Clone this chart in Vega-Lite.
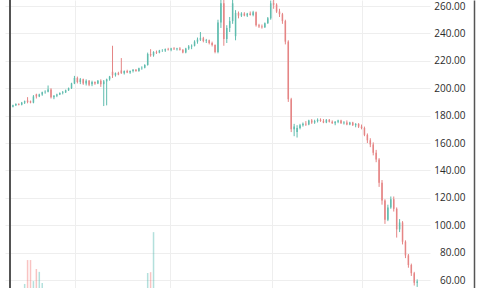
{
  "$schema": "https://vega.github.io/schema/vega-lite/v6.json",
  "width": 425,
  "height": 288,
  "autosize": {"type": "none"},
  "padding": {"left": 5, "top": 0, "right": 50, "bottom": 0},
  "background": "#ffffff",
  "config": {"view": {"stroke": null}, "font": "Open Sans"},
  "data": {
    "values": [
      {"i": 1, "o": 186.5, "h": 188, "l": 186, "c": 187.5, "v": 12},
      {"i": 2, "o": 187.5, "h": 189, "l": 187, "c": 188.5, "v": 10},
      {"i": 3, "o": 188.5, "h": 189, "l": 187.5, "c": 188, "v": 11},
      {"i": 4, "o": 188, "h": 190, "l": 187.5, "c": 189.5, "v": 13},
      {"i": 5, "o": 189.5, "h": 191, "l": 188.5, "c": 190.5, "v": 21.4},
      {"i": 6, "o": 191, "h": 193.5, "l": 189, "c": 190, "v": 29.7},
      {"i": 7, "o": 190.5, "h": 191, "l": 189, "c": 189.5, "v": 29.7},
      {"i": 8, "o": 189.5, "h": 195, "l": 189, "c": 194, "v": 22.4},
      {"i": 9, "o": 195.5, "h": 196, "l": 192.5, "c": 194, "v": 26.6},
      {"i": 10, "o": 194, "h": 196, "l": 193.5, "c": 195.5, "v": 25.6},
      {"i": 11, "o": 195.5, "h": 197.5, "l": 194.5, "c": 197, "v": 21.7},
      {"i": 12, "o": 197, "h": 198.5, "l": 196, "c": 197.5, "v": 15},
      {"i": 13, "o": 197.5, "h": 202, "l": 197, "c": 199, "v": 14},
      {"i": 14, "o": 199, "h": 200, "l": 192.5, "c": 193.5, "v": 16},
      {"i": 15, "o": 193.5, "h": 195, "l": 192, "c": 194.5, "v": 12},
      {"i": 16, "o": 194.5, "h": 196, "l": 193.5, "c": 195.5, "v": 10},
      {"i": 17, "o": 195.5, "h": 197, "l": 195, "c": 196.5, "v": 9},
      {"i": 18, "o": 196.5, "h": 198, "l": 195.5, "c": 197, "v": 11},
      {"i": 19, "o": 197, "h": 199, "l": 196.5, "c": 198.5, "v": 10},
      {"i": 20, "o": 198.5, "h": 200.5, "l": 198, "c": 200, "v": 12},
      {"i": 21, "o": 200, "h": 204, "l": 199.5, "c": 203.5, "v": 14},
      {"i": 22, "o": 203.5, "h": 209, "l": 203, "c": 207.5, "v": 17},
      {"i": 23, "o": 207.5, "h": 208.5, "l": 203.5, "c": 204.5, "v": 13},
      {"i": 24, "o": 204.5, "h": 207.5, "l": 203, "c": 206.5, "v": 11},
      {"i": 25, "o": 206.5, "h": 207, "l": 202.5, "c": 203.5, "v": 12},
      {"i": 26, "o": 203.5, "h": 206.5, "l": 202, "c": 205.5, "v": 10},
      {"i": 27, "o": 205.5, "h": 206, "l": 201.5, "c": 202.5, "v": 11},
      {"i": 28, "o": 203, "h": 205.5, "l": 201.5, "c": 204.5, "v": 9},
      {"i": 29, "o": 204.5, "h": 205, "l": 202.5, "c": 203.5, "v": 10},
      {"i": 30, "o": 203.5, "h": 206, "l": 203, "c": 205.5, "v": 11},
      {"i": 31, "o": 205.5, "h": 206.5, "l": 201, "c": 203, "v": 13},
      {"i": 32, "o": 203, "h": 206, "l": 187, "c": 205, "v": 18},
      {"i": 33, "o": 205, "h": 207, "l": 187.5, "c": 206.5, "v": 17},
      {"i": 34, "o": 206.5, "h": 209, "l": 205.5, "c": 208.5, "v": 12},
      {"i": 35, "o": 212, "h": 231, "l": 207.5, "c": 209.5, "v": 19},
      {"i": 36, "o": 209.5, "h": 211.5, "l": 208.5, "c": 211, "v": 12},
      {"i": 37, "o": 211, "h": 212, "l": 209.5, "c": 210, "v": 10},
      {"i": 38, "o": 213, "h": 222, "l": 210.5, "c": 211, "v": 15},
      {"i": 39, "o": 211, "h": 213, "l": 210, "c": 212.5, "v": 10},
      {"i": 40, "o": 212.5, "h": 213.5, "l": 211, "c": 211.5, "v": 9},
      {"i": 41, "o": 211.5, "h": 213, "l": 210.5, "c": 212.5, "v": 10},
      {"i": 42, "o": 212.5, "h": 214, "l": 211.5, "c": 213.5, "v": 11},
      {"i": 43, "o": 213.5, "h": 214, "l": 212, "c": 212.5, "v": 9},
      {"i": 44, "o": 212.5, "h": 215, "l": 212, "c": 214.5, "v": 10},
      {"i": 45, "o": 214.5, "h": 216, "l": 213.5, "c": 215, "v": 12},
      {"i": 46, "o": 215, "h": 217.5, "l": 214.5, "c": 217, "v": 19},
      {"i": 47, "o": 217, "h": 226, "l": 216.5, "c": 225, "v": 25.2},
      {"i": 48, "o": 225, "h": 228.5, "l": 223, "c": 224, "v": 25.5},
      {"i": 49, "o": 224, "h": 227, "l": 223, "c": 226.5, "v": 39.4},
      {"i": 50, "o": 226.5, "h": 227.5, "l": 225, "c": 226, "v": 16},
      {"i": 51, "o": 226, "h": 228, "l": 225.5, "c": 227.5, "v": 13},
      {"i": 52, "o": 227.5, "h": 228.5, "l": 226.5, "c": 227.5, "v": 11},
      {"i": 53, "o": 227.5, "h": 229, "l": 226.5, "c": 228.5, "v": 10},
      {"i": 54, "o": 228.5, "h": 229.5, "l": 227.5, "c": 228, "v": 9},
      {"i": 55, "o": 228, "h": 229.5, "l": 227, "c": 229, "v": 10},
      {"i": 56, "o": 229, "h": 230, "l": 228, "c": 228.5, "v": 9},
      {"i": 57, "o": 228.5, "h": 229.5, "l": 227.5, "c": 229, "v": 10},
      {"i": 58, "o": 229, "h": 230, "l": 227.5, "c": 228, "v": 11},
      {"i": 59, "o": 228, "h": 228.5, "l": 225.5, "c": 226, "v": 12},
      {"i": 60, "o": 226, "h": 229.5, "l": 225.5, "c": 229, "v": 11},
      {"i": 61, "o": 229, "h": 231.5, "l": 228, "c": 230.5, "v": 12},
      {"i": 62, "o": 230.5, "h": 232, "l": 228.5, "c": 231, "v": 11},
      {"i": 63, "o": 231, "h": 235, "l": 230.5, "c": 234, "v": 13},
      {"i": 64, "o": 234, "h": 237, "l": 232.5, "c": 235.5, "v": 12},
      {"i": 65, "o": 235.5, "h": 241, "l": 234.5, "c": 236.5, "v": 14},
      {"i": 66, "o": 236.5, "h": 237.5, "l": 233.5, "c": 234.5, "v": 11},
      {"i": 67, "o": 234.5, "h": 236, "l": 233, "c": 235, "v": 10},
      {"i": 68, "o": 235, "h": 235.5, "l": 232, "c": 233, "v": 11},
      {"i": 69, "o": 233, "h": 234, "l": 230.5, "c": 231.5, "v": 12},
      {"i": 70, "o": 231.5, "h": 232, "l": 225.5, "c": 226.5, "v": 15},
      {"i": 71, "o": 226.5, "h": 250, "l": 225.5, "c": 248, "v": 19},
      {"i": 72, "o": 248, "h": 265, "l": 244, "c": 262, "v": 19},
      {"i": 73, "o": 262, "h": 265, "l": 231, "c": 236, "v": 19},
      {"i": 74, "o": 236, "h": 246, "l": 233, "c": 244, "v": 16},
      {"i": 75, "o": 244, "h": 252, "l": 241, "c": 249, "v": 15},
      {"i": 76, "o": 249, "h": 265, "l": 247, "c": 262, "v": 17},
      {"i": 77, "o": 238, "h": 257, "l": 235, "c": 255, "v": 17},
      {"i": 78, "o": 255, "h": 256, "l": 251, "c": 253, "v": 12},
      {"i": 79, "o": 253, "h": 255.5, "l": 252, "c": 254.5, "v": 11},
      {"i": 80, "o": 254.5, "h": 255.5, "l": 252.5, "c": 253, "v": 10},
      {"i": 81, "o": 253, "h": 255, "l": 252, "c": 254.5, "v": 10},
      {"i": 82, "o": 254.5, "h": 256, "l": 253, "c": 253.5, "v": 11},
      {"i": 83, "o": 253.5, "h": 256.5, "l": 252.5, "c": 255.5, "v": 12},
      {"i": 84, "o": 255.5, "h": 256, "l": 245, "c": 246, "v": 15},
      {"i": 85, "o": 246, "h": 247, "l": 244, "c": 245, "v": 11},
      {"i": 86, "o": 245, "h": 246.5, "l": 243.5, "c": 244.5, "v": 10},
      {"i": 87, "o": 244.5, "h": 248, "l": 244, "c": 247.5, "v": 11},
      {"i": 88, "o": 247.5, "h": 252, "l": 247, "c": 251, "v": 12},
      {"i": 89, "o": 251, "h": 264, "l": 250, "c": 262, "v": 16},
      {"i": 90, "o": 262, "h": 265, "l": 258, "c": 261, "v": 14},
      {"i": 91, "o": 261, "h": 262, "l": 255, "c": 256, "v": 13},
      {"i": 92, "o": 256, "h": 258, "l": 252, "c": 254, "v": 12},
      {"i": 93, "o": 254, "h": 255, "l": 247, "c": 249, "v": 14},
      {"i": 94, "o": 249, "h": 250, "l": 232, "c": 234, "v": 18},
      {"i": 95, "o": 234, "h": 235, "l": 190, "c": 192, "v": 19},
      {"i": 96, "o": 192, "h": 193, "l": 168, "c": 170, "v": 19},
      {"i": 97, "o": 170, "h": 174, "l": 165, "c": 172, "v": 18},
      {"i": 98, "o": 168, "h": 173, "l": 164, "c": 171, "v": 15},
      {"i": 99, "o": 171, "h": 174, "l": 170, "c": 173, "v": 12},
      {"i": 100, "o": 173, "h": 175, "l": 172, "c": 174, "v": 11},
      {"i": 101, "o": 174, "h": 176, "l": 172.5, "c": 173.5, "v": 10},
      {"i": 102, "o": 173.5, "h": 177, "l": 173, "c": 176.5, "v": 11},
      {"i": 103, "o": 176.5, "h": 177.5, "l": 174, "c": 175, "v": 10},
      {"i": 104, "o": 175, "h": 177, "l": 174, "c": 176, "v": 9},
      {"i": 105, "o": 176, "h": 178, "l": 175, "c": 177, "v": 10},
      {"i": 106, "o": 177, "h": 178, "l": 175.5, "c": 176, "v": 9},
      {"i": 107, "o": 176, "h": 177.5, "l": 174.5, "c": 175, "v": 10},
      {"i": 108, "o": 175, "h": 177.5, "l": 174.5, "c": 177, "v": 9},
      {"i": 109, "o": 177, "h": 177.5, "l": 175, "c": 175.5, "v": 10},
      {"i": 110, "o": 175.5, "h": 176.5, "l": 174, "c": 174.5, "v": 9},
      {"i": 111, "o": 174.5, "h": 176, "l": 173, "c": 175.5, "v": 10},
      {"i": 112, "o": 175.5, "h": 177, "l": 174.5, "c": 176.5, "v": 9},
      {"i": 113, "o": 176.5, "h": 177, "l": 174, "c": 174.5, "v": 10},
      {"i": 114, "o": 174.5, "h": 176, "l": 173.5, "c": 175, "v": 9},
      {"i": 115, "o": 175, "h": 176.5, "l": 173, "c": 173.5, "v": 10},
      {"i": 116, "o": 173.5, "h": 175.5, "l": 173, "c": 175, "v": 9},
      {"i": 117, "o": 175, "h": 175.5, "l": 172.5, "c": 173, "v": 10},
      {"i": 118, "o": 173, "h": 174.5, "l": 171.5, "c": 174, "v": 9},
      {"i": 119, "o": 174, "h": 174.5, "l": 171, "c": 172, "v": 10},
      {"i": 120, "o": 172, "h": 173.5, "l": 170, "c": 171, "v": 11},
      {"i": 121, "o": 171, "h": 172, "l": 165, "c": 166, "v": 13},
      {"i": 122, "o": 166, "h": 167, "l": 160, "c": 162, "v": 14},
      {"i": 123, "o": 162, "h": 163.5, "l": 157, "c": 159, "v": 14},
      {"i": 124, "o": 159, "h": 160.5, "l": 151, "c": 153, "v": 15},
      {"i": 125, "o": 153, "h": 155, "l": 146, "c": 148, "v": 15},
      {"i": 126, "o": 148, "h": 149, "l": 128, "c": 131, "v": 17},
      {"i": 127, "o": 131, "h": 133, "l": 115, "c": 118, "v": 18},
      {"i": 128, "o": 118, "h": 119, "l": 101, "c": 104, "v": 18},
      {"i": 129, "o": 104, "h": 115, "l": 103, "c": 113, "v": 16},
      {"i": 130, "o": 113, "h": 121, "l": 112, "c": 119, "v": 15},
      {"i": 131, "o": 119, "h": 121, "l": 110, "c": 112, "v": 15},
      {"i": 132, "o": 112, "h": 113, "l": 91, "c": 97, "v": 17},
      {"i": 133, "o": 97, "h": 104.5, "l": 95, "c": 102, "v": 16},
      {"i": 134, "o": 102, "h": 103, "l": 86, "c": 88, "v": 17},
      {"i": 135, "o": 88, "h": 89, "l": 76, "c": 78, "v": 17},
      {"i": 136, "o": 78, "h": 79, "l": 69, "c": 71, "v": 18},
      {"i": 137, "o": 71, "h": 72, "l": 63, "c": 65, "v": 18},
      {"i": 138, "o": 65, "h": 66, "l": 56, "c": 58, "v": 19},
      {"i": 139, "o": 58, "h": 60.5, "l": 55, "c": 59, "v": 16}
    ]
  },
  "encoding": {
    "x": {
      "field": "i",
      "type": "quantitative",
      "scale": {"domain": [0, 141.67], "nice": false, "zero": false},
      "axis": {
        "title": null,
        "values": [22.3, 54.7, 89.3, 120.3],
        "labels": false,
        "ticks": false,
        "domain": false,
        "grid": true,
        "gridColor": "#eeeeee",
        "gridWidth": 1
      }
    }
  },
  "layer": [
    {
      "mark": {"type": "bar", "size": 1.5, "clip": true, "opacity": 0.35},
      "encoding": {
        "y": {
          "field": "v",
          "type": "quantitative",
          "scale": {"domain": [20, 120], "zero": false, "nice": false},
          "axis": null
        },
        "y2": {"datum": 0},
        "color": {
          "condition": {"test": "datum.c < datum.o", "value": "#ef5350"},
          "value": "#26a69a"
        }
      }
    },
    {
      "encoding": {
        "y": {
          "field": "l",
          "type": "quantitative",
          "scale": {"domain": [54.2, 264.4], "zero": false, "nice": false},
          "axis": {
            "orient": "right",
            "title": null,
            "values": [60, 80, 100, 120, 140, 160, 180, 200, 220, 240, 260],
            "format": ".2f",
            "offset": 44,
            "domain": true,
            "domainColor": "#555555",
            "domainWidth": 1.5,
            "ticks": false,
            "tickSize": 0,
            "labelAlign": "right",
            "labelPadding": -9,
            "labelFont": "Open Sans",
            "labelFontSize": 10,
            "labelColor": "#2b2b2b",
            "grid": true,
            "gridColor": "#eeeeee",
            "gridWidth": 1
          }
        },
        "color": {
          "condition": {"test": "datum.c < datum.o", "value": "#e58585"},
          "value": "#5fbcae"
        }
      },
      "layer": [
        {
          "mark": {"type": "rule", "strokeWidth": 1, "clip": true},
          "encoding": {"y2": {"field": "h"}}
        },
        {
          "mark": {"type": "bar", "size": 1.5, "clip": true},
          "encoding": {"y": {"field": "o", "type": "quantitative"}, "y2": {"field": "c"}}
        }
      ]
    },
    {
      "mark": {"type": "rule", "color": "#555555", "strokeWidth": 1.5},
      "encoding": {"x": {"datum": 0}}
    }
  ],
  "resolve": {"scale": {"y": "independent"}}
}
